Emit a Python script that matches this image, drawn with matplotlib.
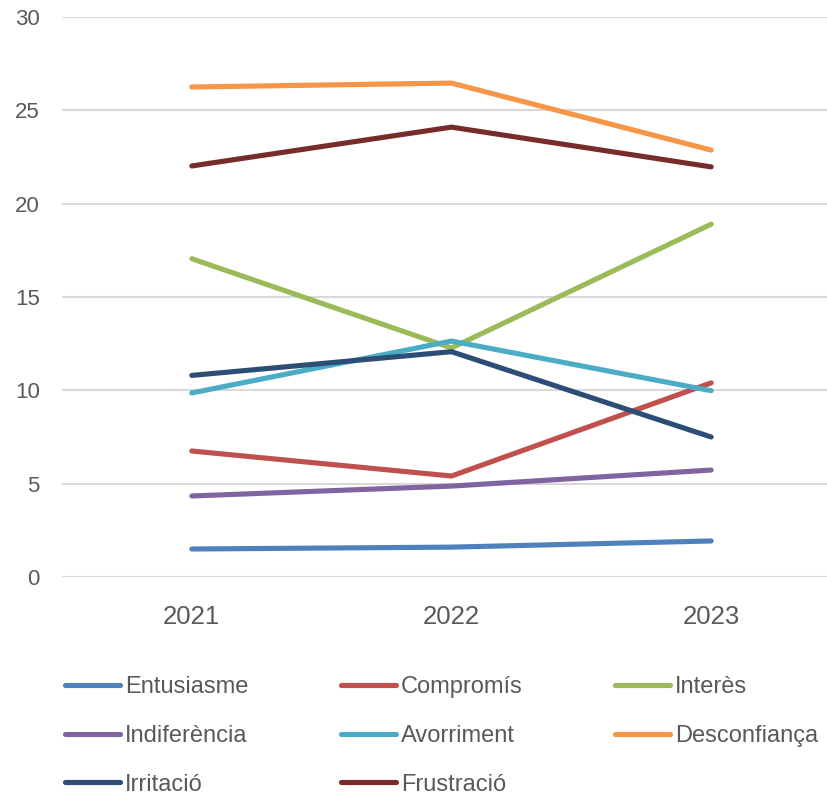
import matplotlib
matplotlib.use("Agg")
import matplotlib.pyplot as plt

years = ["2021", "2022", "2023"]

entusiasme = [1.5, 1.6, 1.93]
compromis = [6.75, 5.41, 10.4]
interes = [17.05, 12.27, 18.9]
indiferencia = [4.34, 4.87, 5.73]
avorriment = [9.86, 12.64, 9.98]
desconfianca = [26.25, 26.46, 22.87]
irritacio = [10.8, 12.07, 7.5]
frustracio = [22.02, 24.1, 21.97]

series = [
    ("Entusiasme", entusiasme, "#4F81BD"),
    ("Compromís", compromis, "#C0504D"),
    ("Interès", interes, "#9BBB59"),
    ("Indiferència", indiferencia, "#8064A2"),
    ("Avorriment", avorriment, "#4BACC6"),
    ("Desconfiança", desconfianca, "#F79646"),
    ("Irritació", irritacio, "#2C4D75"),
    ("Frustració", frustracio, "#772C2A"),
]

plt.rcParams["font.family"] = ["Liberation Sans", "DejaVu Sans"]

fig = plt.figure(figsize=(8.28, 7.96), dpi=100)
ax = fig.add_axes([62 / 828, 1 - 577 / 796, 779 / 828, 560 / 796])

x = list(range(len(years)))
handles = {}
for name, vals, col in series:
    (ln,) = ax.plot(x, vals, color=col, lw=3.7, solid_capstyle="round", label=name)
    handles[name] = ln

ax.set_xlim(-0.5, 2.5)
ax.set_ylim(0, 30)
ax.set_yticks(range(0, 31, 5))
ax.set_xticks(x)
ax.set_xticklabels(years)
ax.grid(axis="y", color="#D9D9D9", lw=1.5)
ax.set_axisbelow(True)
for s in ax.spines.values():
    s.set_visible(False)
ax.tick_params(axis="y", length=0, pad=16, labelsize=16, labelcolor="#595959")
ax.tick_params(axis="x", length=0, pad=20, labelsize=18.5, labelcolor="#595959")

# ordre per columnes: la llegenda s'omple columna a columna
order = ["Entusiasme", "Indiferència", "Irritació",
         "Compromís", "Avorriment", "Frustració",
         "Interès", "Desconfiança"]
leg = fig.legend(
    [handles[n] for n in order], order,
    loc="upper left", bbox_to_anchor=(65 / 828, 1 - 676 / 796),
    ncol=3, frameon=False, fontsize=17, borderpad=0, borderaxespad=0,
    handlelength=2.33, handletextpad=0.2, columnspacing=3.93, labelspacing=1.135,
    labelcolor="#595959",
)

fig.savefig("out.png", dpi=100)
